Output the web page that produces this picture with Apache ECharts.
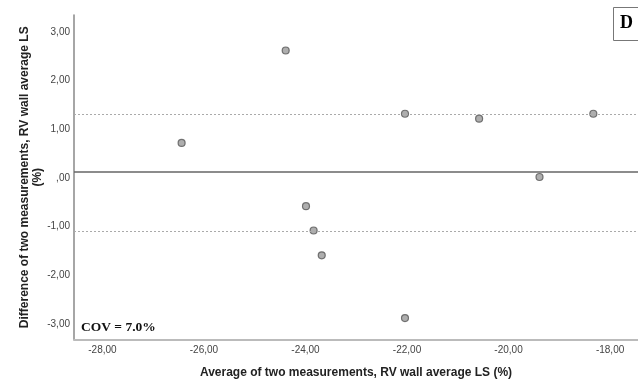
<!DOCTYPE html>
<html>
<head>
<meta charset="utf-8">
<script src="https://cdn.jsdelivr.net/npm/echarts@6/dist/echarts.min.js"></script>
<style>html,body{margin:0;padding:0;background:#fff;}#c{width:638px;height:379px;}</style>
</head>
<body>
<div id="c"></div>
<script>
// Bland-Altman data: average (x) vs difference (y)
const averages    = [-26.44, -24.39, -22.04, -20.58, -18.33, -19.39, -23.99, -23.84, -23.68, -22.04];
const differences = [  0.72,   2.62,   1.32,   1.22,   1.32,   0.02,  -0.58,  -1.08,  -1.59,  -2.88];
const meanDiff = [0.12];
const limits = [1.32, -1.09];
const xTicks = [-28, -26, -24, -22, -20, -18];
const yTicks = [-3, -2, -1, 0, 1, 2, 3];
const xTitle = 'Average of two measurements, RV wall average LS (%)';
const yTitle = 'Difference of two measurements, RV wall average LS\n(%)';
const covText = 'COV = 7.0%';
const panelLabel = 'D';

function fmt(v) {
  let s = Math.abs(v).toFixed(2).replace('.', ',');
  if (s.startsWith('0,')) s = s.slice(1);
  return (v < 0 ? '-' : '') + s;
}

const chart = echarts.init(document.getElementById('c'), null, {renderer: 'canvas'});
chart.setOption({
  animation: false,
  backgroundColor: '#fff',
  grid: {left: 74, right: 0, top: 15, bottom: 39.5, containLabel: false, outerBoundsMode: 'none'},
  xAxis: {
    type: 'value', min: -28.56, max: -17.45,
    name: xTitle, nameLocation: 'middle', nameGap: 27, nameMoveOverlap: false,
    nameTextStyle: {fontFamily: 'Liberation Sans', fontWeight: 'bold', fontSize: 12, color: '#222'},
    axisLine: {show: true, onZero: false, lineStyle: {color: '#bbb', width: 2}},
    axisTick: {show: false, customValues: xTicks},
    splitLine: {show: false},
    axisLabel: {customValues: xTicks, formatter: fmt, fontFamily: 'Liberation Sans', fontSize: 10, color: '#444', margin: 6}
  },
  yAxis: {
    type: 'value', min: -3.32, max: 3.35,
    name: yTitle, nameLocation: 'middle', nameGap: 30, nameRotate: 90, nameMoveOverlap: false,
    nameTextStyle: {fontFamily: 'Liberation Sans', fontWeight: 'bold', fontSize: 12, color: '#222', lineHeight: 13, align: 'center'},
    axisLine: {show: true, onZero: false, lineStyle: {color: '#888', width: 1.5}},
    axisTick: {show: false, customValues: yTicks},
    splitLine: {show: false},
    axisLabel: {customValues: yTicks, formatter: fmt, fontFamily: 'Liberation Sans', fontSize: 10, color: '#444', margin: 4}
  },
  series: [{
    type: 'scatter',
    data: averages.map((x, i) => [x, differences[i]]),
    symbol: 'circle', symbolSize: 7,
    itemStyle: {color: '#9a9a9a', borderColor: '#555', borderWidth: 1.2},
    markLine: {
      silent: true, symbol: 'none', label: {show: false},
      data: [
        {yAxis: meanDiff[0], lineStyle: {color: '#666', width: 1.5, type: 'solid'}},
        {yAxis: limits[0], lineStyle: {color: '#aaa', width: 1, type: [2, 2]}},
        {yAxis: limits[1], lineStyle: {color: '#aaa', width: 1, type: [2, 2]}}
      ]
    }
  }],
  graphic: [
    {type: 'rect', left: 613, top: 7, shape: {width: 30, height: 33}, style: {fill: '#fff', stroke: '#777', lineWidth: 1}},
    {type: 'text', left: 620, top: 14, style: {text: panelLabel, font: 'bold 18px "Liberation Serif"', fill: '#000'}},
    {type: 'text', left: 81, top: 321, style: {text: covText, font: 'bold 13.5px "Liberation Serif"', fill: '#111'}}
  ]
});
</script>
</body>
</html>
